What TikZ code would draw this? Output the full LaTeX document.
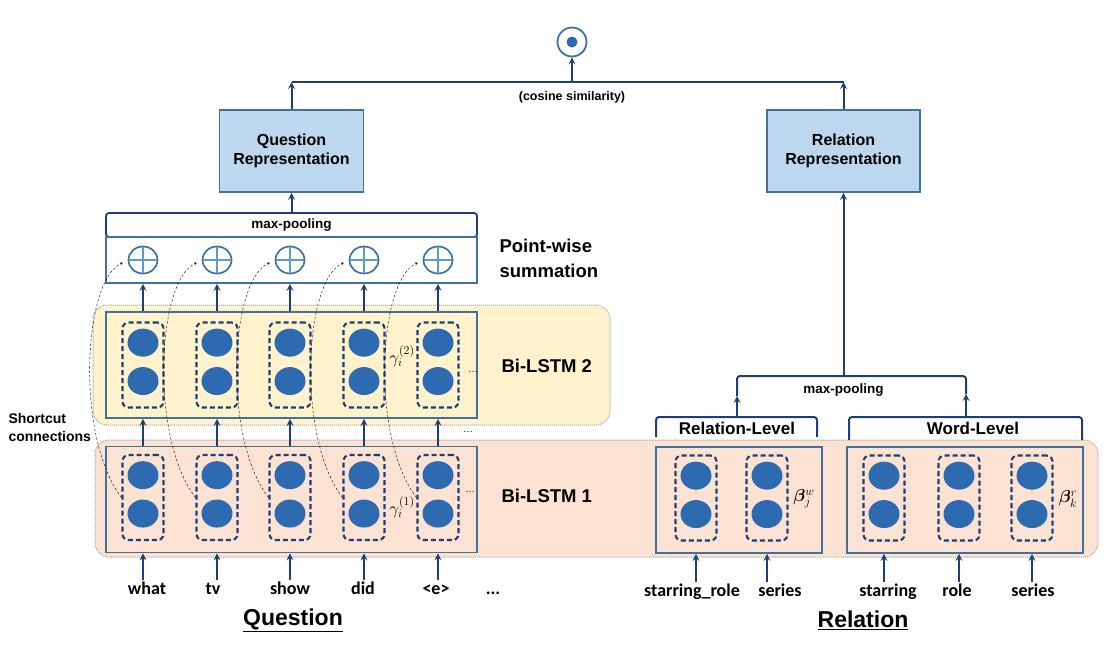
\documentclass[tikz,border=0pt]{standalone}
\usepackage{fontspec}
\usepackage{bm}
\setmainfont{Liberation Sans}
\newfontfamily\wordfont{Carlito}
\usetikzlibrary{arrows}
\usetikzlibrary{shapes.geometric, positioning}
\definecolor{Lcolor}{HTML}{1F3F74}
\definecolor{Bcolor}{HTML}{41719C}
\definecolor{Ucolor}{HTML}{2E6AB0}
\definecolor{Rfill}{HTML}{BDD7EE}
\definecolor{Yfill}{HTML}{FFF2CC}
\definecolor{Pfill}{HTML}{FBE2D2}
\definecolor{Xcolor}{HTML}{5B9BD5}
\tikzstyle{repbox} = [rectangle, line width=1.8pt, draw=Bcolor, fill=Rfill, minimum width=144pt, minimum height=82pt, align=center, font=\bfseries\fontsize{16}{19}\selectfont]
\tikzstyle{lstmbox} = [rectangle, line width=1.8pt, draw=Bcolor, minimum width=371pt, minimum height=106pt]
\tikzstyle{poolbox} = [rectangle, rounded corners=3pt, line width=1.8pt, draw=Lcolor, fill=white, minimum width=371pt, minimum height=24pt, font=\bfseries\fontsize{13.5}{16}\selectfont]
\tikzstyle{sumframe} = [rectangle, line width=1.8pt, draw=Bcolor, minimum width=371pt, minimum height=46pt]
\tikzstyle{cellbox} = [rectangle, rounded corners=6pt, line width=2.1pt, dash pattern=on 5pt off 3pt, draw=Lcolor, minimum width=41pt, minimum height=85pt]
\tikzstyle{lstmunit} = [ellipse, fill=Ucolor, minimum width=31pt, minimum height=28pt, inner sep=0pt]
\tikzstyle{plusnode} = [ellipse, line width=1.7pt, draw=Bcolor, fill=white, minimum width=29pt, minimum height=27pt, inner sep=0pt]
\tikzstyle{outcircle} = [circle, line width=1.8pt, draw=Bcolor, fill=white, minimum size=29pt, inner sep=0pt]
\tikzstyle{bglayer} = [rectangle, rounded corners=14pt, draw=gray!70, densely dotted, line width=1pt]
\tikzstyle{word} = [font=\wordfont\bfseries\fontsize{18}{20}\selectfont, inner sep=1pt, text height=13pt, text depth=4pt]
\tikzstyle{bottomtitle} = [font=\bfseries\fontsize{23}{26}\selectfont]
\tikzstyle{layerlabel} = [anchor=west, align=left, font=\bfseries\fontsize{18.5}{25}\selectfont]
\tikzstyle{headlabel} = [font=\bfseries\fontsize{17}{20}\selectfont]
\tikzstyle{smalllabel} = [font=\bfseries\fontsize{13.5}{16}\selectfont]
\tikzstyle{mathlabel} = [font=\fontsize{17}{19}\selectfont, inner sep=0pt]
\tikzstyle{arrow} = [line width=2pt, draw=Lcolor, ->, >=stealth]
\tikzstyle{navyline} = [line width=2pt, draw=Lcolor]
\tikzstyle{shortcut} = [thin, dash pattern=on 2.5pt off 2pt, ->, >=stealth]

\begin{document}
\begin{tikzpicture}[x=1pt, y=-1pt]
\useasboundingbox (0,0) rectangle (1115,649);

% layer backgrounds
\node (bg2) [bglayer, fill=Yfill, minimum width=517pt, minimum height=120pt] at (351.5,365) {};
\node (bg1) [bglayer, fill=Pfill, minimum width=1003pt, minimum height=117pt] at (596.5,498.5) {};

% top part
\node (qrep) [repbox] at (291.5,151) {Question\\Representation};
\node (rrep) [repbox, minimum width=153pt] at (843.5,151) {Relation\\Representation};
\node (out) [outcircle] at (572,42) {};
\node (outdot) [circle, fill=Ucolor, minimum size=11pt, inner sep=0pt] at (out.center) {};

\coordinate (qtop) at (291.5,82);
\coordinate (rtop) at (843.5,82);
\coordinate (ctop) at (572,82);
\draw [arrow] (qrep.north) -- (qtop);
\draw [arrow] (rrep.north) -- (rtop);
\draw [navyline] (qtop) -- (rtop);
\draw [arrow] (ctop) -- (out.south);
\node (cosine) [smalllabel, font=\bfseries\fontsize{12.5}{15}\selectfont] at (572,97) {(cosine similarity)};

% question side
\node (poolhead) [poolbox] at (291.5,225) {max-pooling};
\node (sumbox) [sumframe] at (291.5,260) {};
\node (qbox2) [lstmbox] at (291.5,365) {};
\node (qbox1) [lstmbox] at (291.5,499.5) {};
\draw [arrow] (poolhead.north) -- (qrep.south);

\foreach \i/\x in {1/143, 2/217, 3/290, 4/364, 5/438}{
  \node (p\i) [plusnode] at (\x,260) {};
  \draw [Xcolor, line width=1.4pt, shorten >=1pt, shorten <=1pt] (p\i.north) -- (p\i.south);
  \draw [Xcolor, line width=1.4pt, shorten >=1pt, shorten <=1pt] (p\i.west) -- (p\i.east);
  \node (qb\i) [cellbox] at (\x,365) {};
  \node (qb\i u) [lstmunit, below=7pt of qb\i.north] {};
  \node (qb\i l) [lstmunit, below=10pt of qb\i u] {};
  \node (qa\i) [cellbox] at (\x,497.5) {};
  \node (qa\i u) [lstmunit, below=7pt of qa\i.north] {};
  \node (qa\i l) [lstmunit, below=10pt of qa\i u] {};
  \draw [arrow] (qb\i |- qbox2.north) -- (qb\i |- sumbox.south);
  \draw [arrow] (qa\i |- qbox1.north) -- (qa\i |- qbox2.south);
}

\node (w1) [word] at (147,590) {what};
\node (w2) [word] at (213,590) {tv};
\node (w3) [word] at (290,590) {show};
\node (w4) [word] at (363,590) {did};
\node (w5) [word] at (436,590) {<e>};
\node (w6) [word] at (493,590) {...};
\foreach \i in {1,...,5}
  \draw [arrow] (qa\i |- w\i.north) -- (qa\i |- qbox1.south);

\node (g2) [mathlabel] at (402,356) {$\gamma_i^{(2)}$};
\node (g1) [mathlabel] at (402,507) {$\gamma_i^{(1)}$};
\node (dots2) at (473,372) {\dots};
\node (dots1) at (470,492) {\dots};
\node (dotsmid) at (468,432) {\dots};

\node (pwlabel) [layerlabel] at (496,258.5) {Point-wise\\summation};
\node (l2label) [layerlabel] at (498,366) {Bi-LSTM 2};
\node (l1label) [layerlabel] at (498,496) {Bi-LSTM 1};
\node (sclabel) [layerlabel, font=\bfseries\fontsize{14}{18}\selectfont] at (5,427) {Shortcut\\connections};
\node (qtitle) [bottomtitle] at (293,620) {\underline{Question}};

% relation side
\node (relbox) [lstmbox, minimum width=166pt] at (739,500) {};
\node (wordbox) [lstmbox, minimum width=236pt] at (965,500) {};
\foreach \n/\x in {r1/696, r2/767, k1/884, k2/959, k3/1032}{
  \node (\n) [cellbox] at (\x,498) {};
  \node (\n u) [lstmunit, below=7pt of \n.north] {};
  \node (\n l) [lstmunit, below=10pt of \n u] {};
}
\node (wr1) [word] at (692,592) {starring\_role};
\node (wr2) [word] at (780,592) {series};
\node (wk1) [word] at (888,592) {starring};
\node (wk2) [word] at (957,592) {role};
\node (wk3) [word] at (1033,592) {series};
\draw [arrow] (r1 |- wr1.north) -- (r1 |- relbox.south);
\draw [arrow] (r2 |- wr2.north) -- (r2 |- relbox.south);
\draw [arrow] (k1 |- wk1.north) -- (k1 |- wordbox.south);
\draw [arrow] (k2 |- wk2.north) -- (k2 |- wordbox.south);
\draw [arrow] (k3 |- wk3.north) -- (k3 |- wordbox.south);
\node (bw) [mathlabel] at (804,499) {$\bm{\beta}_j^w$};
\node (br) [mathlabel] at (1068,499) {$\bm{\beta}_k^r$};

\node (rlhead) [headlabel] at (737,428) {Relation-Level};
\node (wlhead) [headlabel] at (973,428) {Word-Level};
\draw [navyline, rounded corners=3pt] (656,437) |- (817,417) -- (817,437);
\draw [navyline, rounded corners=3pt] (849,440) |- (1082,417) -- (1082,440);

\coordinate (rlTop) at (737,417);
\coordinate (rlUp) at (737,396);
\coordinate (wlTop) at (966,417);
\coordinate (wlUp) at (966,394);
\coordinate (rpool) at (843.5,376);
\draw [arrow] (rlTop) -- (rlUp);
\draw [arrow] (wlTop) -- (wlUp);
\draw [navyline, rounded corners=3pt] (rlUp) |- (rpool) -| (wlUp);
\draw [arrow] (rpool) -- (rrep.south);
\node (rpoollabel) [smalllabel] at (843.5,390) {max-pooling};
\node (rtitle) [bottomtitle] at (863,620) {\underline{Relation}};

% shortcut connections
\foreach \i in {1,...,5}
  \draw [shortcut] (qa\i.west) .. controls +(-46,-60) and +(-40,18) .. ([xshift=-5pt]p\i.190);

\end{tikzpicture}
\end{document}
